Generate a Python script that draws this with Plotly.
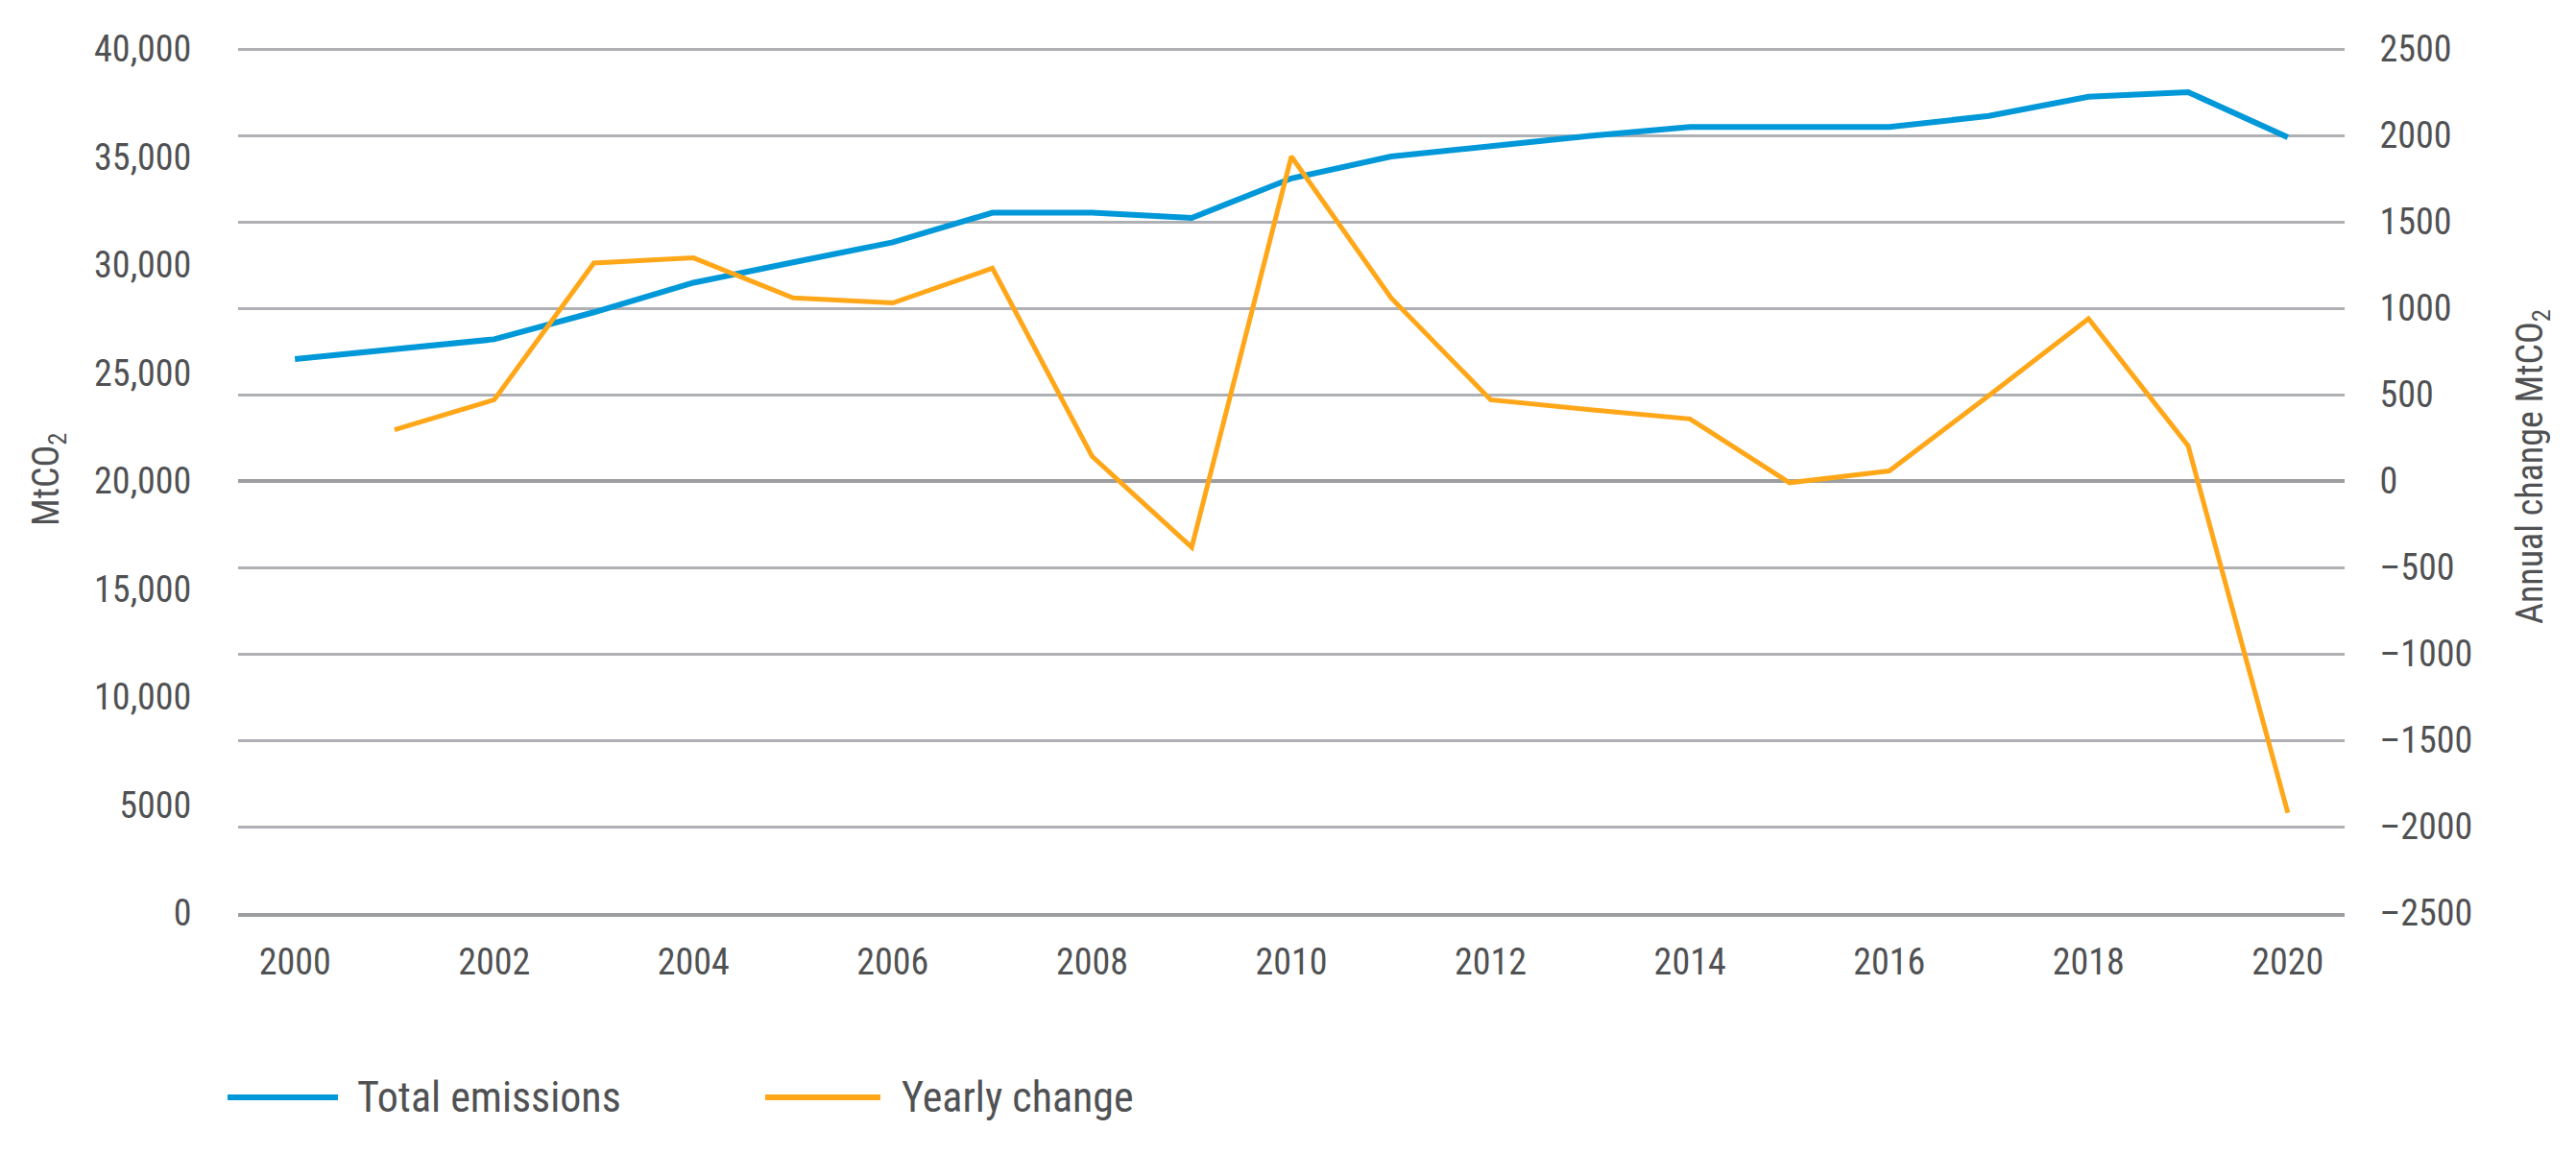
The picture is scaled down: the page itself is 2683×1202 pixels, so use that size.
import plotly.graph_objects as go

# ---- data ----
years = list(range(2000, 2021))
total_emissions = [25640, 26100, 26560, 27810, 29180, 30120, 31050, 32420, 32420, 32180,
                   34010, 35020, 35500, 35980, 36390, 36390, 36390, 36900, 37790, 38000, 35910]
yearly_change = [None, 296, 470, 1261, 1291, 1060, 1030, 1231, 143, -384,
                 1878, 1060, 470, 413, 359, -10, 58, 494, 939, 203, -1920]

x_tick_vals = list(range(2000, 2021, 2))
x_tick_text = [str(v) for v in x_tick_vals]
left_tick_vals = [0, 5000, 10000, 15000, 20000, 25000, 30000, 35000, 40000]
left_tick_text = ["0", "5000", "10,000", "15,000", "20,000", "25,000", "30,000", "35,000", "40,000"]
right_tick_vals = [-2500, -2000, -1500, -1000, -500, 0, 500, 1000, 1500, 2000, 2500]
right_tick_text = ["\u20132500", "\u20132000", "\u20131500", "\u20131000", "\u2013500",
                   "0", "500", "1000", "1500", "2000", "2500"]

series_names = ["Total emissions", "Yearly change"]
left_title = "MtCO<sub>2</sub>"
right_title = "Annual change MtCO<sub>2</sub>"

BLUE = "#0098D8"
ORANGE = "#FFA719"
TEXT = "#505153"
GRID = "#AEB0B3"
FONT = "Liberation Sans Narrow, Arial Narrow, Roboto Condensed, DejaVu Sans Condensed, sans-serif"

fig = go.Figure()
fig.add_trace(go.Scatter(x=years, y=total_emissions, name=series_names[0], mode="lines",
                         line=dict(color=BLUE, width=6), yaxis="y", showlegend=False))
fig.add_trace(go.Scatter(x=years, y=yearly_change, name=series_names[1], mode="lines",
                         line=dict(color=ORANGE, width=5), yaxis="y2", showlegend=False,
                         connectgaps=False))

W, H = 2683, 1202
ML, MR, MT, MB = 248, 241, 45, 251
# plot extends 6 px above the top gridline so that gridline is drawn
EXTRA = 6 / 900

fig.update_layout(
    width=W, height=H, autosize=False,
    margin=dict(l=ML, r=MR, t=MT, b=MB, pad=0),
    paper_bgcolor="white", plot_bgcolor="white",
    font=dict(family=FONT, color=TEXT, size=38),
    xaxis=dict(range=[1999.43, 2020.57], tickvals=x_tick_vals, ticktext=x_tick_text,
               showgrid=False, zeroline=False, showline=True, linecolor="#9C9EA1", linewidth=4,
               ticks="outside", ticklen=14, tickcolor="rgba(0,0,0,0)",
               tickfont=dict(size=38, color=TEXT, family=FONT)),
    yaxis=dict(range=[0, 40000 * (1 + EXTRA)], tickvals=left_tick_vals, ticktext=left_tick_text,
               showgrid=False, zeroline=False, showline=False,
               ticks="outside", ticklen=40, tickcolor="rgba(0,0,0,0)",
               tickfont=dict(size=38, color=TEXT, family=FONT)),
    yaxis2=dict(range=[-2500, 2500 + 5000 * EXTRA], tickvals=right_tick_vals, ticktext=right_tick_text,
                overlaying="y", side="right",
                showgrid=True, gridcolor=GRID, gridwidth=2.5,
                zeroline=True, zerolinecolor="#9C9EA1", zerolinewidth=4,
                showline=False,
                ticks="outside", ticklen=28, tickcolor="rgba(0,0,0,0)",
                tickfont=dict(size=38, color=TEXT, family=FONT)),
)

PW = W - ML - MR
PH = H - MT - MB

def px_x(p):
    return (p - ML) / PW

def px_y(p):
    return (H - MB - p) / PH

# axis titles
fig.add_annotation(text=left_title, xref="paper", yref="paper", x=px_x(50), y=px_y(500),
                   textangle=-90, showarrow=False, font=dict(size=38, color=TEXT, family=FONT),
                   xanchor="center", yanchor="middle")
fig.add_annotation(text=right_title, xref="paper", yref="paper", x=px_x(2637), y=px_y(486),
                   textangle=-90, showarrow=False, font=dict(size=38, color=TEXT, family=FONT),
                   xanchor="center", yanchor="middle")

# legend (drawn as swatches + labels below the plot)
legend_items = [(series_names[0], BLUE, 237, 352, 370, 6),
                (series_names[1], ORANGE, 797, 917, 937, 6)]
for name, col, x0, x1, xt, lw in legend_items:
    fig.add_shape(type="line", xref="paper", yref="paper",
                  x0=px_x(x0), x1=px_x(x1), y0=px_y(1143), y1=px_y(1143),
                  line=dict(color=col, width=lw))
    fig.add_annotation(text=name, xref="paper", yref="paper", x=px_x(xt), y=px_y(1143),
                       showarrow=False, xanchor="left", yanchor="middle",
                       font=dict(size=44, color=TEXT, family=FONT))

fig.write_html("out.html", config={"displayModeBar": False},
               post_script="document.body.style.margin='0';document.body.style.overflow='hidden';")
